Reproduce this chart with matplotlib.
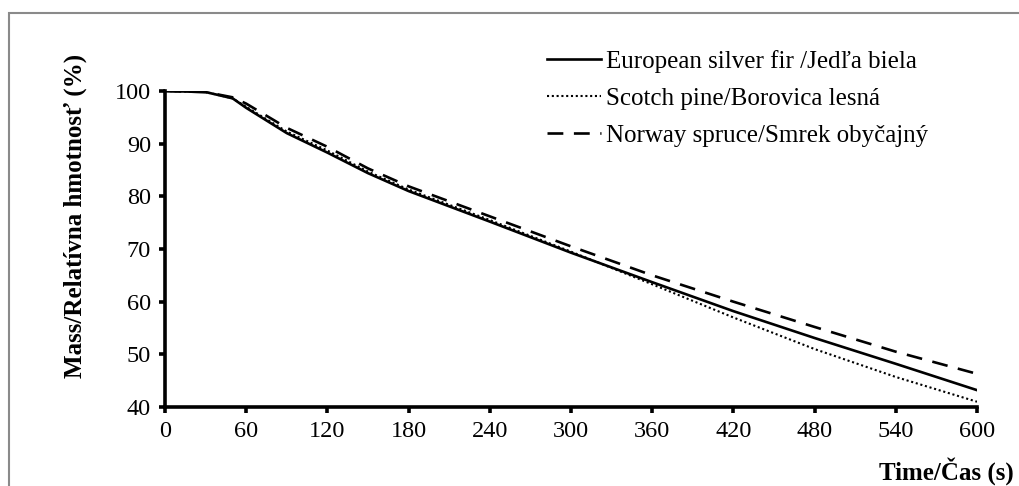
import matplotlib
matplotlib.use("Agg")
import matplotlib.pyplot as plt
from matplotlib.patches import Rectangle

time_s = [0, 30, 50, 60, 90, 120, 150, 180, 240, 300, 360, 420, 480, 540, 600]
fir = [100, 99.8, 98.6, 96.8, 92.0, 88.3, 84.4, 81.0, 75.2, 69.3, 63.7, 58.2, 53.1, 48.2, 43.2]
pine = [100, 99.8, 98.6, 97.0, 92.3, 88.7, 84.7, 81.3, 75.5, 69.5, 63.3, 57.0, 51.0, 45.7, 41.0]
spruce = [100, 99.8, 98.8, 97.6, 93.0, 89.4, 85.3, 81.9, 76.2, 70.5, 65.0, 60.0, 55.2, 50.5, 46.3]

labels = ["European silver fir /Jedľa biela",
          "Scotch pine/Borovica lesná",
          "Norway spruce/Smrek obyčajný"]
xticks = [0, 60, 120, 180, 240, 300, 360, 420, 480, 540, 600]
yticks = [40, 50, 60, 70, 80, 90, 100]

plt.rcParams['font.family'] = ['Liberation Serif', 'DejaVu Serif']

W, H = 1019, 486
fig = plt.figure(figsize=(W / 100, H / 100), dpi=100)
fig.patches.append(Rectangle((9 / W, -0.1), 1.2, 1 - 13 / H + 0.1, transform=fig.transFigure,
                             fill=False, edgecolor='#8a8a8a', linewidth=1.5))

ax = fig.add_axes([165 / W, 1 - 407 / H, (977 - 165) / W, (407 - 91) / H])
ax.plot(time_s, fir, color='black', lw=1.9, label=labels[0])
ax.plot(time_s, pine, color='black', lw=1.5, linestyle=(0, (1, 1.3)), label=labels[1])
ax.plot(time_s, spruce, color='black', lw=1.9, linestyle=(0, (6, 4)), label=labels[2])

ax.set_xlim(0, 600)
ax.set_ylim(40, 100)
ax.set_xticks(xticks)
ax.set_yticks(yticks)
for s in ['top', 'right']:
    ax.spines[s].set_visible(False)
for s in ['left', 'bottom']:
    ax.spines[s].set_linewidth(2.6)
ax.tick_params(direction='out', length=4, width=2.6, labelsize=17.5, pad=6)

fig.text(75 / W, 1 - 216 / H, "Mass/Relatívna hmotnosť (%)", rotation=90, fontweight='bold',
         fontsize=18, ha='center', va='center')
fig.text(1014 / W, 1 - 471 / H, "Time/Čas (s)", fontweight='bold', fontsize=18,
         ha='right', va='center')

leg = ax.legend(loc='upper left', bbox_to_anchor=(547 / W, 1 - 50 / H), bbox_transform=fig.transFigure,
                frameon=False, fontsize=18, handlelength=2.15, handletextpad=0.2,
                labelspacing=0.58, borderpad=0, borderaxespad=0)

fig.savefig("out.png", dpi=100)
